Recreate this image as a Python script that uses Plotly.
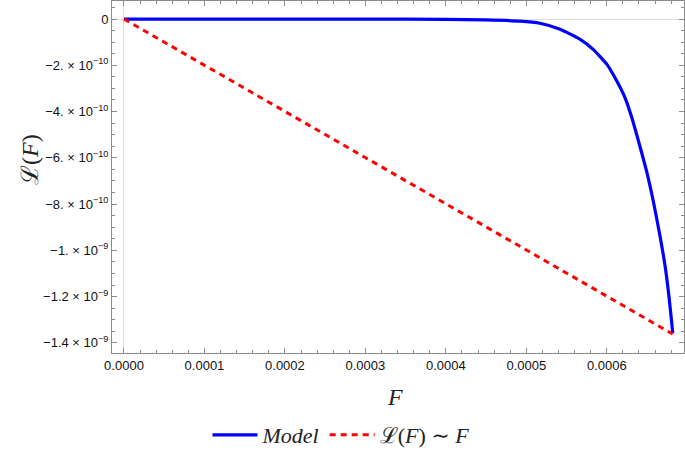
import plotly.graph_objects as go

# Model curve
F_model = [0.0, 0.0001, 0.0002, 0.0003, 0.0004, 0.00045, 0.000492, 0.000517, 0.000542,
           0.000567, 0.000583, 0.0006, 0.000612, 0.000623, 0.000631, 0.000641, 0.00065,
           0.000658, 0.000666, 0.0006725, 0.000677, 0.00068, 0.000682]
L_model = [0.0, 0.0, 0.0, -0.0003e-9, -0.0015e-9, -0.004e-9, -0.0086e-9, -0.018e-9, -0.044e-9,
           -0.088e-9, -0.131e-9, -0.195e-9, -0.265e-9, -0.343e-9, -0.425e-9, -0.548e-9, -0.665e-9,
           -0.79e-9, -0.935e-9, -1.068e-9, -1.19e-9, -1.288e-9, -1.358e-9]

# Linear approximation
F_lin = [0.0, 0.000682]
L_lin = [0.0, -1.362e-9]

x_tickvals = [0.0, 0.0001, 0.0002, 0.0003, 0.0004, 0.0005, 0.0006]
x_ticktext = ["0.0000", "0.0001", "0.0002", "0.0003", "0.0004", "0.0005", "0.0006"]
y_tickvals = [0.0, -2e-10, -4e-10, -6e-10, -8e-10, -1e-9, -1.2e-9, -1.4e-9]
y_ticktext = ["0", "−2. × 10<sup>−10</sup>", "−4. × 10<sup>−10</sup>", "−6. × 10<sup>−10</sup>",
              "−8. × 10<sup>−10</sup>", "−1. × 10<sup>−9</sup>", "−1.2 × 10<sup>−9</sup>",
              "−1.4 × 10<sup>−9</sup>"]

serif = "Liberation Serif, DejaVu Serif, serif"

fig = go.Figure()
fig.add_trace(go.Scatter(x=F_model, y=L_model, mode="lines", name="<i>Model</i>",
                         line=dict(color="#0000ff", width=3.2, shape="spline", smoothing=0.5)))
fig.add_trace(go.Scatter(x=F_lin, y=L_lin, mode="lines", name="ℒ(<i>F</i>) ∼ <i>F</i>",
                         line=dict(color="#ff0000", width=3, dash="6px,5px")))

axis_common = dict(showline=True, linecolor="#8c8c8c", linewidth=1, mirror="ticks",
                   ticks="inside", ticklen=5, tickcolor="#8c8c8c", showgrid=False,
                   zeroline=True, zerolinecolor="#dcdcdc", zerolinewidth=1, automargin=False,
                   tickfont=dict(family="Liberation Sans, Arial, sans-serif", size=13, color="#111"))

pw, ph = 685 - 112 - 1, 456 - 1 - 103

fig.update_layout(
    width=685, height=456,
    margin=dict(l=112, r=1, t=1, b=103, autoexpand=False),
    paper_bgcolor="white", plot_bgcolor="white",
    xaxis=dict(range=[-0.0000149, 0.000696], tickvals=x_tickvals, ticktext=x_ticktext,
               minor=dict(dtick=0.00002, ticks="inside", ticklen=3, tickcolor="#8c8c8c", showgrid=False),
               **axis_common),
    yaxis=dict(range=[-1.444e-9, 0.078e-9], tickvals=y_tickvals, ticktext=y_ticktext,
               minor=dict(dtick=0.5e-10, ticks="inside", ticklen=3, tickcolor="#8c8c8c", showgrid=False),
               **axis_common),
    showlegend=True,
    legend=dict(orientation="h", x=(341 - 112) / pw, xanchor="center", y=(353 - 435) / ph, yanchor="middle",
                font=dict(family=serif, size=22, color="#222"), itemwidth=45,
                bgcolor="rgba(0,0,0,0)"),
    annotations=[
        dict(text="<i>F</i>", x=(395 - 112) / pw, y=(353 - 397) / ph, xref="paper", yref="paper",
             xanchor="center", yanchor="middle",
             showarrow=False, font=dict(family=serif, size=24, color="#222")),
        dict(text="ℒ(<i>F</i>)", x=(30 - 112) / pw, y=(353 - 160) / ph, xref="paper", yref="paper",
             xanchor="center", yanchor="middle",
             showarrow=False, textangle=-90, font=dict(family=serif, size=24, color="#222")),
    ],
)

fig.write_html("out.html", config={"displayModeBar": False},
               post_script="document.body.style.margin='0px';document.body.style.padding='0px';")
